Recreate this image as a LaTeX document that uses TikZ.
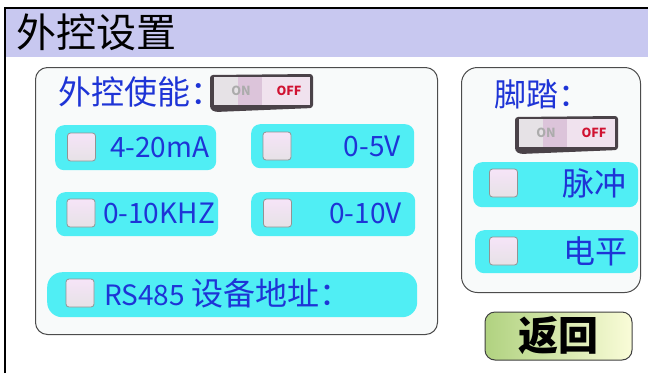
\documentclass[tikz,border=0pt]{standalone}
\usepackage{fontspec}
\newfontfamily\cjk{Noto Sans CJK SC}
\definecolor{titlebar}{RGB}{200,200,240}
\definecolor{panel}{RGB}{248,250,250}
\definecolor{optcyan}{RGB}{80,238,244}
\definecolor{optblue}{RGB}{30,52,214}
\definecolor{boxtop}{RGB}{246,228,248}
\definecolor{boxbot}{RGB}{230,226,230}
\definecolor{offred}{RGB}{208,18,50}
\definecolor{swframe}{RGB}{74,66,72}
\definecolor{swbody}{RGB}{240,226,238}
\definecolor{swleft}{RGB}{230,226,230}
\definecolor{swmid}{RGB}{220,196,218}
\definecolor{btngreen}{RGB}{176,210,128}
\definecolor{btnyellow}{RGB}{250,252,216}

\tikzset{
  panelbox/.style={draw=black!70, fill=panel, rounded corners=12pt, line width=1pt, inner sep=0pt, anchor=north west},
  optbox/.style={fill=optcyan, rounded corners=9pt, inner sep=0pt, anchor=north west},
  checkbox/.style={draw=gray!85, top color=boxtop, bottom color=boxbot, rounded corners=3pt, minimum size=28pt, inner sep=0pt, line width=0.8pt},
  optlabel/.style={text=optblue, inner sep=0pt, font=\cjk\fontsize{28}{30}\selectfont},
  hanlabel/.style={text=optblue, inner sep=0pt, font=\cjk\fontsize{32}{34}\selectfont},
  swtext/.style={inner sep=0pt, font=\cjk\bfseries\fontsize{12.5}{13}\selectfont},
  backbtn/.style={draw=black!75, line width=1pt, rounded corners=10pt, left color=btngreen, right color=btnyellow, inner sep=0pt, font=\cjk\bfseries\fontsize{40}{42}\selectfont},
}

% on/off switch, #1 name, #2 top left corner
\newcommand{\onoffsw}[2]{%
  \begin{scope}[shift={#2}]
    \fill[swframe, rounded corners=3pt] (0,1) -- (103,0) -- (103,34) -- (5,38) -- (0,35) -- cycle;
    \fill[swbody] (4,3) rectangle (100,31);
    \fill[swleft] (4,3) rectangle (28,31);
    \fill[swmid] (28,3) rectangle (52,31);
    \node[swtext, text=gray!65] (#1on) at (31,17) {ON};
    \node[swtext, text=offred] (#1off) at (79,17) {OFF};
  \end{scope}}

\begin{document}
\begin{tikzpicture}[x=1pt, y=-1pt]
\useasboundingbox[fill=white] (0,0) rectangle (648,373);

% title bar
\node[fill=titlebar, anchor=north west, minimum width=642pt, minimum height=48pt, inner sep=0pt] (bar) at (6,9) {};
\draw[line width=2pt] (5,373) -- (5,8) -- (648,8);
\node[anchor=west, inner sep=0pt, font=\cjk\fontsize{40}{42}\selectfont] (title) at (16,32.5) {外控设置};

% external control panel
\node[panelbox, minimum width=402pt, minimum height=267pt] (ext) at (35,67) {};
\node[hanlabel, anchor=west, font=\cjk\fontsize{33}{35}\selectfont] (enable) at (58,92) {外控使能：};
\onoffsw{ensw}{(210,74)}

\node[optbox, minimum width=161pt, minimum height=45pt] (ma) at (55,125) {};
\node[checkbox] (mabox) at (81.5,147) {};
\node[optlabel, anchor=west] (matext) at (110,147) {4-20mA};

\node[optbox, minimum width=163pt, minimum height=44pt] (v5) at (251,124) {};
\node[checkbox] (v5box) at (277,146) {};
\node[optlabel, anchor=east] (v5text) at (401,146) {0-5V};

\node[optbox, minimum width=162pt, minimum height=44pt] (khz) at (56,192) {};
\node[checkbox] (khzbox) at (81,213) {};
\node[optlabel, anchor=west] (khztext) at (103,213) {0-10KHZ};

\node[optbox, minimum width=164pt, minimum height=44pt] (v10) at (251,192) {};
\node[checkbox] (v10box) at (277.5,213) {};
\node[optlabel, anchor=east] (v10text) at (402,213) {0-10V};

\node[optbox, rounded corners=15pt, minimum width=370pt, minimum height=45pt] (rs) at (47,272) {};
\node[checkbox] (rsbox) at (80,293) {};
\node[optlabel, anchor=west] (rstext) at (104,293) {RS485 {\fontsize{32}{34}\selectfont 设备地址：}};

% foot switch panel
\node[panelbox, rounded corners=16pt, minimum width=179pt, minimum height=225pt] (foot) at (461,67) {};
\node[hanlabel, anchor=west, font=\cjk\fontsize{32}{34}\selectfont] (pedal) at (494,94.5) {脚踏：};
\onoffsw{ftsw}{(515,116)}

\node[optbox, minimum width=165pt, minimum height=45pt] (pulse) at (473,162) {};
\node[checkbox] (pulsebox) at (503.5,183) {};
\node[hanlabel, anchor=east] (pulsetext) at (627,183) {脉冲};

\node[optbox, minimum width=163pt, minimum height=43pt] (level) at (475,230) {};
\node[checkbox] (levelbox) at (503.5,251) {};
\node[hanlabel, anchor=east] (leveltext) at (628,251) {电平};

% back button
\node[backbtn, minimum width=147pt, minimum height=48pt] (back) at (558.5,336) {返回};
\end{tikzpicture}
\end{document}
